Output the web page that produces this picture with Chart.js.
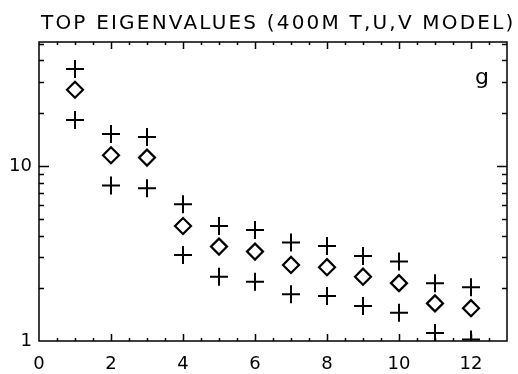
<!DOCTYPE html>
<html>
<head>
<meta charset="utf-8">
<script src="https://cdn.jsdelivr.net/npm/chart.js@4/dist/chart.umd.min.js"></script>
<style>
  body { margin: 0; background: #fff; }
  canvas { display: block; }
</style>
</head>
<body>
<canvas id="eigenChart" width="518" height="374"></canvas>
<script>
const ranks = [1, 2, 3, 4, 5, 6, 7, 8, 9, 10, 11, 12];
const eigenvalues = [27.2, 11.5, 11.15, 4.54, 3.46, 3.24, 2.72, 2.64, 2.33, 2.14, 1.64, 1.54];
const upperBound = [35.8, 15.2, 14.6, 6.04, 4.54, 4.31, 3.65, 3.49, 3.06, 2.84, 2.14, 2.03];
const lowerBound = [18.3, 7.72, 7.46, 3.10, 2.33, 2.18, 1.85, 1.81, 1.585, 1.45, 1.11, 1.02];

const xTicks = [0, 2, 4, 6, 8, 10, 12];
const yTicks = [1, 10];
const yMinorTicks = [2, 3, 4, 5, 6, 7, 8, 9, 20, 30, 40, 50];

const titleText = 'TOP EIGENVALUES (400M T,U,V MODEL)';
const panelLabel = 'g';

function toPoints(values) {
  return ranks.map((r, i) => ({ x: r, y: values[i] }));
}

// box round the plot, inward ticks, title and panel letter
const framePlugin = {
  id: 'frame',
  afterDraw(chart) {
    const { ctx, chartArea: a, scales: { x, y } } = chart;
    ctx.save();
    ctx.strokeStyle = '#000';
    ctx.lineWidth = 1.5;
    ctx.strokeRect(a.left, a.top, a.right - a.left, a.bottom - a.top);

    ctx.beginPath();
    for (let v = 0.5; v < 13; v += 0.5) {
      const px = Math.round(x.getPixelForValue(v)) + 0.5;
      const len = v % 2 === 0 ? 7 : 3;
      ctx.moveTo(px, a.bottom);
      ctx.lineTo(px, a.bottom - len);
      ctx.moveTo(px, a.top);
      ctx.lineTo(px, a.top + len);
    }
    yTicks.concat(yMinorTicks).forEach(v => {
      const py = Math.round(y.getPixelForValue(v)) + 0.5;
      if (py <= a.top + 1 || py >= a.bottom - 1) return;
      const len = yTicks.includes(v) ? 10 : 5;
      ctx.moveTo(a.left, py);
      ctx.lineTo(a.left + len, py);
      ctx.moveTo(a.right, py);
      ctx.lineTo(a.right - len, py);
    });
    ctx.stroke();

    ctx.fillStyle = '#000';
    ctx.font = '20px "DejaVu Sans"';
    ctx.letterSpacing = '2.2px';
    ctx.textAlign = 'left';
    ctx.textBaseline = 'alphabetic';
    ctx.fillText(titleText, 41, 29);

    ctx.letterSpacing = '0px';
    ctx.font = '22px "DejaVu Sans"';
    ctx.textAlign = 'center';
    ctx.fillText(panelLabel, 482, 84);
    ctx.restore();
  }
};

const ctx = document.getElementById('eigenChart').getContext('2d');
const eigenChart = new Chart(ctx, {
  type: 'scatter',
  data: {
    datasets: [
      {
        label: 'upper',
        data: toPoints(upperBound),
        pointStyle: 'cross',
        pointRadius: 9,
        borderColor: '#000',
        borderWidth: 2
      },
      {
        label: 'eigenvalue',
        data: toPoints(eigenvalues),
        pointStyle: 'rectRot',
        pointRadius: 8,
        borderColor: '#000',
        backgroundColor: 'rgba(0,0,0,0)',
        borderWidth: 2.2
      },
      {
        label: 'lower',
        data: toPoints(lowerBound),
        pointStyle: 'cross',
        pointRadius: 9,
        borderColor: '#000',
        borderWidth: 2
      }
    ]
  },
  options: {
    responsive: false,
    animation: false,
    events: [],
    layout: { padding: { top: 42, right: 1, left: 0, bottom: 0 } },
    scales: {
      x: {
        type: 'linear',
        min: 0,
        max: 13,
        afterBuildTicks: scale => { scale.ticks = xTicks.map(v => ({ value: v })); },
        afterFit: scale => { scale.height = 33; },
        grid: { display: false, drawTicks: false },
        border: { display: false },
        ticks: { color: '#000', padding: 13, maxRotation: 0, font: { family: 'DejaVu Sans', size: 18 } }
      },
      y: {
        type: 'logarithmic',
        min: 1,
        max: 51,
        afterBuildTicks: scale => { scale.ticks = yTicks.map(v => ({ value: v })); },
        afterFit: scale => { scale.width = 39; },
        grid: { display: false, drawTicks: false },
        border: { display: false },
        ticks: {
          color: '#000',
          padding: 7,
          font: { family: 'DejaVu Sans', size: 18 },
          callback: value => String(value)
        }
      }
    },
    plugins: {
      legend: { display: false },
      tooltip: { enabled: false }
    }
  },
  plugins: [framePlugin]
});
</script>
</body>
</html>
